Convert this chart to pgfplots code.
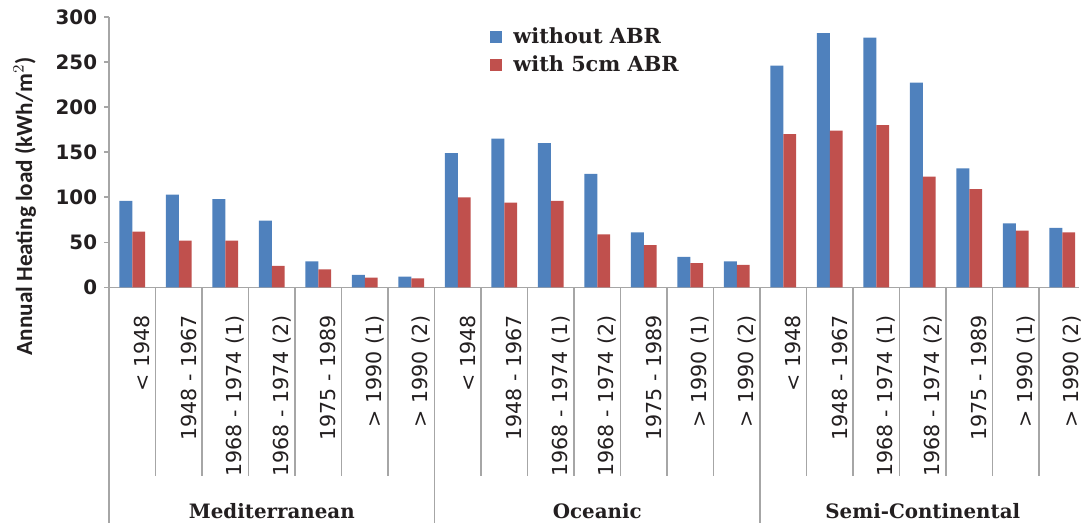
\documentclass[border=0pt]{standalone}
\usepackage{pgfplots}
\pgfplotsset{compat=1.18}
\usepackage{pgfplotstable}
\usepackage{fontspec}
\setmainfont{DejaVu Sans}
\newfontfamily\serifb{DejaVu Serif}
\newfontfamily\labfont{Carlito}

\definecolor{barblue}{HTML}{4F81BD}
\definecolor{barred}{HTML}{C0504D}
\definecolor{linegray}{HTML}{A6A6A6}
\definecolor{txt}{HTML}{231F20}

% x = category index (0-6 Mediterranean, 7-13 Oceanic, 14-20 Semi-Continental)
\pgfplotstableread{
x  without  with
0  96   62
1  103  52
2  98   52
3  74   24
4  29   20
5  14   11
6  12   10
7  149  100
8  165  94
9  160  96
10 126  59
11 61   47
12 34   27
13 29   25
14 246  170
15 282  174
16 277  180
17 227  123
18 132  109
19 71   63
20 66   61
}\heating

\begin{document}
\begin{tikzpicture}
\begin{axis}[
    at={(0,0)}, anchor=south west,
    scale only axis,
    width=489pt, height=136.5pt,
    ybar=0pt, bar width=6.5pt,
    xmin=-0.5, xmax=20.35,
    ymin=0, ymax=300,
    ytick={0,50,...,300},
    axis x line*=bottom, axis y line*=left,
    axis line style={linegray, line width=0.8pt},
    every tick/.style={linegray, line width=0.8pt},
    major tick length=2.5pt,
    tick align=outside,
    yticklabel style={font=\fontsize{10}{12}\selectfont\bfseries, text=txt},
    /pgf/number format/assume math mode=true,
    xtick={0,...,20},
    x tick style={draw=none},
    xticklabels={< 1948, 1948 - 1967, 1968 - 1974 (1), 1968 - 1974 (2), 1975 - 1989, > 1990 (1), > 1990 (2),
                 < 1948, 1948 - 1967, 1968 - 1974 (1), 1968 - 1974 (2), 1975 - 1989, > 1990 (1), > 1990 (2),
                 < 1948, 1948 - 1967, 1968 - 1974 (1), 1968 - 1974 (2), 1975 - 1989, > 1990 (1), > 1990 (2)},
    xticklabel style={rotate=90, anchor=east, font=\fontsize{10.4}{12}\selectfont, text=txt,
                      yshift=-5pt, xshift=-8pt},
    ylabel={Annual Heating load (kWh/m$^2$)},
    ylabel style={at={(axis description cs:-0.087,0.30)}, anchor=center,
                  font=\labfont\bfseries\fontsize{11.7}{13}\selectfont, text=txt},
    legend style={at={(0.386,0.99)}, anchor=north west, draw=none, fill=none,
                  font=\serifb\bfseries\fontsize{10.5}{12}\selectfont, text=txt,
                  row sep=0.5pt},
    legend cell align=left,
    legend image code/.code={\fill[#1] (0pt,-3pt) rectangle (6pt,3pt); \path (10pt,0pt);},
    clip=false,
]
\addplot[fill=barblue, draw=none] table[x=x, y=without] {\heating};
\addplot[fill=barred, draw=none] table[x=x, y=with] {\heating};
\legend{without ABR, with 5cm ABR}

\pgfplotsinvokeforeach{0.5,1.5,2.5,3.5,4.5,5.5,7.5,8.5,9.5,10.5,11.5,12.5,14.5,15.5,16.5,17.5,18.5,19.5}{
  \draw[linegray, line width=0.8pt] (axis cs:#1,0) -- ([yshift=-95pt]axis cs:#1,0);
}
\pgfplotsinvokeforeach{-0.5,6.5,13.5}{
  \draw[linegray, line width=0.8pt] (axis cs:#1,0) -- ([yshift=-119pt]axis cs:#1,0);
}

\node[font=\serifb\bfseries\fontsize{10}{12}\selectfont, text=txt] at ([yshift=-113pt]axis cs:3,0) {Mediterranean};
\node[font=\serifb\bfseries\fontsize{10}{12}\selectfont, text=txt] at ([yshift=-113pt]axis cs:10,0) {Oceanic};
\node[font=\serifb\bfseries\fontsize{10}{12}\selectfont, text=txt] at ([yshift=-113pt]axis cs:17,0) {Semi-Continental};
\end{axis}
\path[use as bounding box] (-55pt,-119pt) rectangle (489pt,145pt);
\end{tikzpicture}
\end{document}
